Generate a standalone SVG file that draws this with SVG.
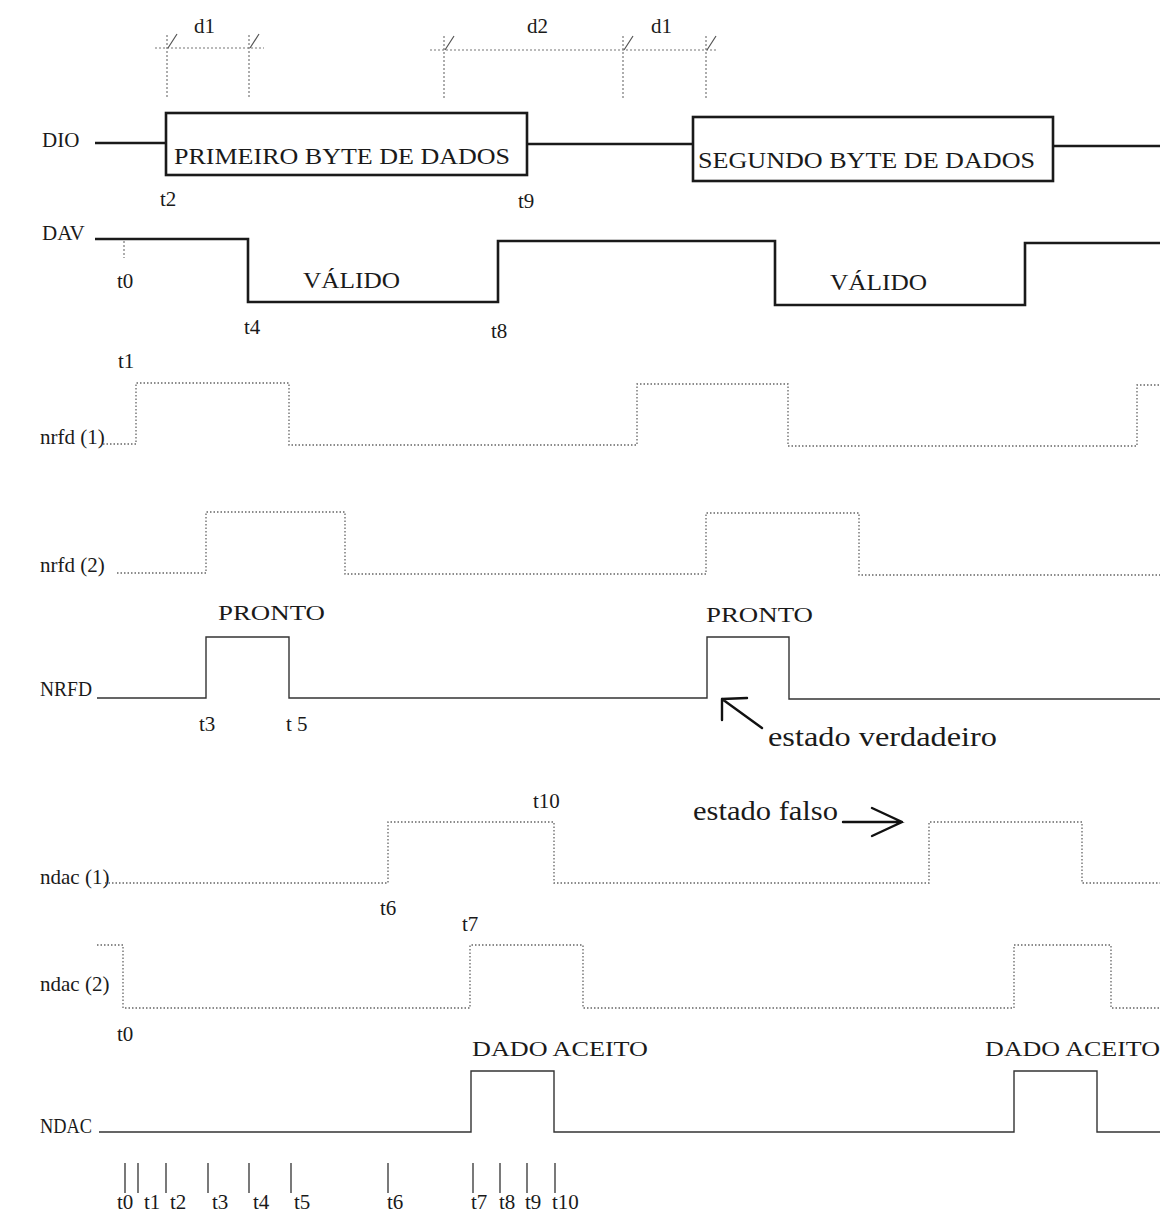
<svg xmlns="http://www.w3.org/2000/svg" width="1160" height="1214" viewBox="0 0 1160 1214">
<style>
text{font-family:"Liberation Serif","Times New Roman",serif;fill:#1a1a1a}
.name{font-size:21px}
.tl{font-size:21px}
.big{font-size:23px}
.lbl{font-size:21px}
.note{font-size:28px}
.thick{fill:none;stroke:#1a1a1a;stroke-width:2.6}
.thin{fill:none;stroke:#333;stroke-width:1.4}
.dot{fill:none;stroke:#666;stroke-width:1.3;stroke-dasharray:1.5 2}
.dim{fill:none;stroke:#777;stroke-width:1.2;stroke-dasharray:2 2}
.slash{fill:none;stroke:#555;stroke-width:1.2}
.arrow{fill:none;stroke:#111;stroke-width:2.4;stroke-linecap:round}
.tick{fill:none;stroke:#333;stroke-width:1.3}
</style>
<rect width="1160" height="1214" fill="#fff"/>

<g id="dimensions">
  <path class="dim" d="M155 48H264M167 35V97M249 35V97"/>
  <path class="slash" d="M168 48L177 34M250 48L259 34"/>
  <text x="194" y="33" style="font-size:21px">d1</text>
  <path class="dim" d="M430 50H716M444 36V98M623 36V100M706 36V100"/>
  <path class="slash" d="M445 50L454 36M624 50L633 36M707 50L716 36"/>
  <text x="527" y="33" style="font-size:21px">d2</text>
  <text x="651" y="33" style="font-size:21px">d1</text>
</g>

<g id="dio">
  <text class="name" x="42" y="147">DIO</text>
  <path class="thick" d="M95 143H166M527 144H693M1053 146H1160"/>
  <rect class="thick" x="166" y="113" width="361" height="62"/>
  <text class="big" x="174" y="164" textLength="336" lengthAdjust="spacingAndGlyphs">PRIMEIRO BYTE DE DADOS</text>
  <rect class="thick" x="693" y="117" width="360" height="64"/>
  <text class="big" x="698" y="168" textLength="337" lengthAdjust="spacingAndGlyphs">SEGUNDO BYTE DE DADOS</text>
  <text class="tl" x="160" y="206">t2</text>
  <text class="tl" x="518" y="208">t9</text>
</g>

<g id="dav">
  <text class="name" x="42" y="240">DAV</text>
  <path class="thick" d="M95 239H248V302H498V241H775V305H1025V243H1160"/>
  <path class="dim" d="M124 241V258"/>
  <text class="tl" x="117" y="288">t0</text>
  <text class="big" x="303" y="288" textLength="97" lengthAdjust="spacingAndGlyphs">VÁLIDO</text>
  <text class="big" x="830" y="290" textLength="97" lengthAdjust="spacingAndGlyphs">VÁLIDO</text>
  <text class="tl" x="244" y="334">t4</text>
  <text class="tl" x="491" y="338">t8</text>
  <text class="tl" x="118" y="368">t1</text>
</g>

<g id="nrfd1">
  <text class="name" x="40" y="444">nrfd (1)</text>
  <path class="dot" d="M103 444H136V383H289V445H637V384H788V446H1137V385H1160"/>
</g>

<g id="nrfd2">
  <text class="name" x="40" y="572">nrfd (2)</text>
  <path class="dot" d="M117 573H206V512H345V574H706V513H859V575H1160"/>
</g>

<g id="nrfd">
  <text class="lbl" x="218" y="620" textLength="107" lengthAdjust="spacingAndGlyphs">PRONTO</text>
  <text class="lbl" x="706" y="622" textLength="107" lengthAdjust="spacingAndGlyphs">PRONTO</text>
  <text class="name" x="40" y="696" textLength="52" lengthAdjust="spacingAndGlyphs">NRFD</text>
  <path class="thin" d="M97 698H206V637H289V698H707V637H789V699H1160"/>
  <text class="tl" x="199" y="731">t3</text>
  <text class="tl" x="286" y="731">t 5</text>
</g>

<g id="ndac1">
  <text class="tl" x="533" y="808">t10</text>
  <text class="name" x="40" y="884">ndac (1)</text>
  <path class="dot" d="M105 883H388V822H554V883H929V822H1082V883H1160"/>
  <text class="tl" x="380" y="915">t6</text>
  <text class="tl" x="462" y="931">t7</text>
</g>

<g id="ndac2">
  <text class="name" x="40" y="991">ndac (2)</text>
  <path class="dot" d="M97 945H123V1008H470V945H583V1008H1014V945H1111V1008H1160"/>
  <text class="tl" x="117" y="1041">t0</text>
</g>

<g id="ndac">
  <text class="lbl" x="472" y="1056" textLength="176" lengthAdjust="spacingAndGlyphs">DADO ACEITO</text>
  <text class="lbl" x="985" y="1056" textLength="175" lengthAdjust="spacingAndGlyphs">DADO ACEITO</text>
  <text class="name" x="40" y="1133" textLength="52" lengthAdjust="spacingAndGlyphs">NDAC</text>
  <path class="thin" d="M99 1132H471V1071H554V1132H1014V1071H1097V1132H1160"/>
</g>

<g id="timeline">
  <path class="tick" d="M125 1163V1193M138 1163V1193M166 1163V1193M208 1163V1193M249 1163V1193M291 1163V1193M388 1163V1193M473 1163V1193M500 1163V1193M527 1163V1193M555 1163V1193"/>
  <text class="tl" x="117" y="1209">t0</text>
  <text class="tl" x="144" y="1209">t1</text>
  <text class="tl" x="170" y="1209">t2</text>
  <text class="tl" x="212" y="1209">t3</text>
  <text class="tl" x="253" y="1209">t4</text>
  <text class="tl" x="294" y="1209">t5</text>
  <text class="tl" x="387" y="1209">t6</text>
  <text class="tl" x="471" y="1209">t7</text>
  <text class="tl" x="499" y="1209">t8</text>
  <text class="tl" x="525" y="1209">t9</text>
  <text class="tl" x="552" y="1209">t10</text>
</g>

<g id="connectors">
  <path class="arrow" d="M762 728L722 699M722 699L747 698M722 699L722 720"/>
  <path class="arrow" d="M843 822H902M872 808L902 822L872 836"/>
</g>
<g id="notes">
  <text class="note" x="768" y="746" textLength="229" lengthAdjust="spacingAndGlyphs">estado verdadeiro</text>
  <text class="note" x="693" y="820" textLength="145" lengthAdjust="spacingAndGlyphs">estado falso</text>
</g>
</svg>
